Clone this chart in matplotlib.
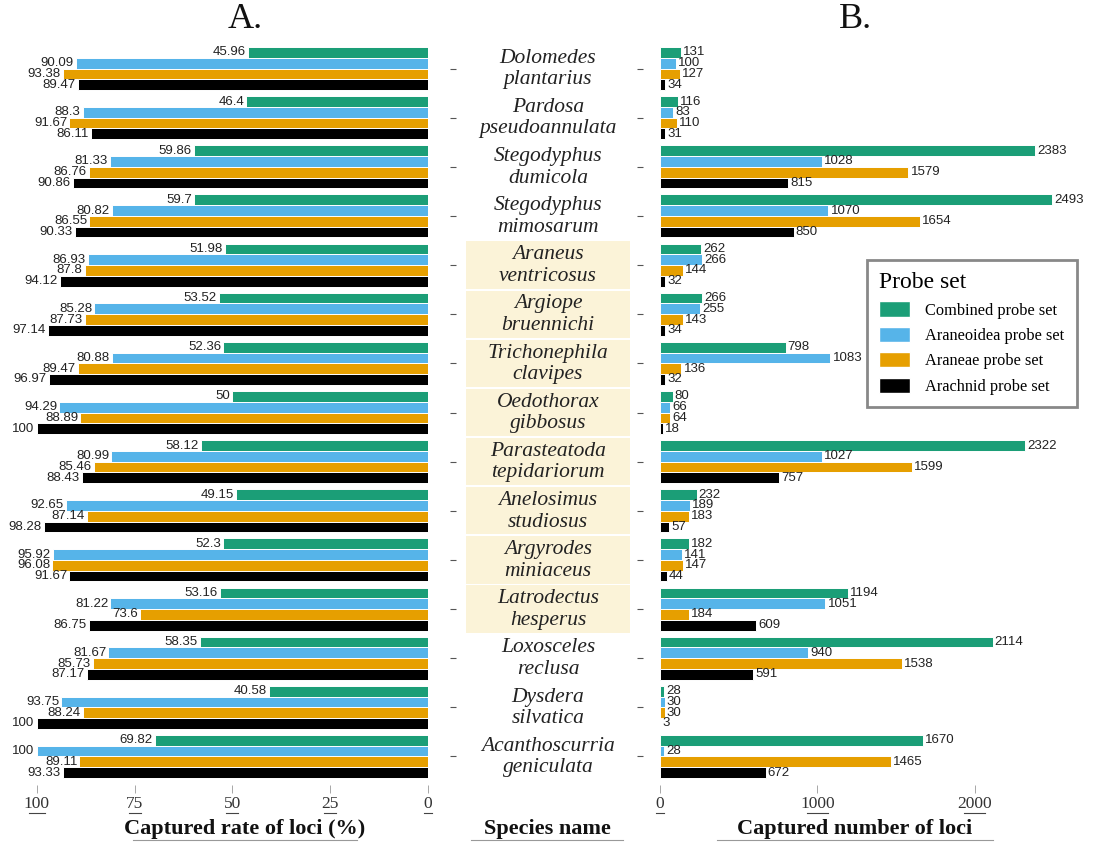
import matplotlib
matplotlib.use("Agg")
import matplotlib.pyplot as plt
import matplotlib.transforms as mtransforms
from matplotlib.patches import Patch, Rectangle
import numpy as np

# ---- data ----
species = [
    ("Dolomedes", "plantarius"), ("Pardosa", "pseudoannulata"),
    ("Stegodyphus", "dumicola"), ("Stegodyphus", "mimosarum"),
    ("Araneus", "ventricosus"), ("Argiope", "bruennichi"),
    ("Trichonephila", "clavipes"), ("Oedothorax", "gibbosus"),
    ("Parasteatoda", "tepidariorum"), ("Anelosimus", "studiosus"),
    ("Argyrodes", "miniaceus"), ("Latrodectus", "hesperus"),
    ("Loxosceles", "reclusa"), ("Dysdera", "silvatica"),
    ("Acanthoscurria", "geniculata"),
]
highlighted = [False, False, False, False, True, True, True, True,
               True, True, True, True, False, False, False]
probe_sets = ["Combined probe set", "Araneoidea probe set",
              "Araneae probe set", "Arachnid probe set"]

rate_combined = [45.96, 46.4, 59.86, 59.7, 51.98, 53.52, 52.36, 50, 58.12,
                 49.15, 52.3, 53.16, 58.35, 40.58, 69.82]
rate_araneoidea = [90.09, 88.3, 81.33, 80.82, 86.93, 85.28, 80.88, 94.29,
                   80.99, 92.65, 95.92, 81.22, 81.67, 93.75, 100]
rate_araneae = [93.38, 91.67, 86.76, 86.55, 87.8, 87.73, 89.47, 88.89, 85.46,
                87.14, 96.08, 73.6, 85.73, 88.24, 89.11]
rate_arachnid = [89.47, 86.11, 90.86, 90.33, 94.12, 97.14, 96.97, 100, 88.43,
                 98.28, 91.67, 86.75, 87.17, 100, 93.33]

num_combined = [131, 116, 2383, 2493, 262, 266, 798, 80, 2322, 232, 182,
                1194, 2114, 28, 1670]
num_araneoidea = [100, 83, 1028, 1070, 266, 255, 1083, 66, 1027, 189, 141,
                  1051, 940, 30, 28]
num_araneae = [127, 110, 1579, 1654, 144, 143, 136, 64, 1599, 183, 147, 184,
               1538, 30, 1465]
num_arachnid = [34, 31, 815, 850, 32, 34, 32, 18, 757, 57, 44, 609, 591, 3,
                672]

rate_ticks = [100, 75, 50, 25, 0]
num_ticks = [0, 1000, 2000]

colors = ["#1b9e77", "#56b4e9", "#e69f00", "#000000"]

SERIF = "Liberation Serif"
SANS = "Liberation Sans"

W, H = 1096, 843
fig = plt.figure(figsize=(W / 100, H / 100), dpi=100)


def px_box(x0, x1, y0, y1):
    # pixel box -> figure fraction [left, bottom, width, height]
    return [x0 / W, 1 - y1 / H, (x1 - x0) / W, (y1 - y0) / H]


ax_top, ax_bot = 40, 785
ax_l = fig.add_axes(px_box(0, 428, ax_top, ax_bot))
ax_m = fig.add_axes(px_box(456, 640, ax_top, ax_bot))
ax_r = fig.add_axes(px_box(660, 1092, ax_top, ax_bot))

n = len(species)
ypos = np.arange(n)
group = 0.875
bh = group / 4
offsets = [-group / 2 + bh * (k + 0.5) for k in range(4)]
ylim = (n - 1 + 0.58, -0.58)

rate_series = [rate_combined, rate_araneoidea, rate_araneae, rate_arachnid]
num_series = [num_combined, num_araneoidea, num_araneae, num_arachnid]

for ax in (ax_l, ax_m, ax_r):
    ax.set_ylim(*ylim)
    for s in ax.spines.values():
        s.set_visible(False)

# left panel: rate (bars grow leftwards, labels at the left end)
for k, vals in enumerate(rate_series):
    ax_l.barh(ypos + offsets[k], vals, height=bh, color=colors[k],
              edgecolor="white", linewidth=0.7)
    for y, v in zip(ypos + offsets[k], vals):
        ax_l.annotate(f"{v:g}", (v, y), xytext=(-1.5, 0),
                      textcoords="offset points", ha="right", va="center",
                      fontsize=9.5, family=SANS, color="#222222")
ax_l.set_xlim(109.4, 0)
ax_l.set_yticks([])
ax_l.set_xticks(rate_ticks)
ax_l.set_xticklabels([str(t) for t in rate_ticks])

# right panel: number
for k, vals in enumerate(num_series):
    ax_r.barh(ypos + offsets[k], vals, height=bh, color=colors[k],
              edgecolor="white", linewidth=0.7)
    for y, v in zip(ypos + offsets[k], vals):
        ax_r.annotate(str(v), (v, y), xytext=(1.5, 0),
                      textcoords="offset points", ha="left", va="center",
                      fontsize=9.5, family=SANS, color="#222222")
ax_r.set_xlim(0, 2745)
ax_r.set_xticks(num_ticks)
ax_r.set_xticklabels([str(t) for t in num_ticks])
ax_r.spines["left"].set_position(("outward", 12))
ax_r.set_yticks(ypos)
ax_r.set_yticklabels([])
ax_r.tick_params(axis="y", length=4, width=0.8, color="#555555")

for ax in (ax_l, ax_r):
    ax.tick_params(axis="x", length=6, width=0.6, color="#999999", pad=2,
                   labelsize=12.5, labelcolor="#333333")
    for lab in ax.get_xticklabels():
        lab.set_family(SERIF)
    # underline tick labels
    tr = mtransforms.blended_transform_factory(ax.transData, ax.transAxes)
    span = (ax.get_xlim()[1] - ax.get_xlim()[0])
    for t in ax.get_xticks():
        w = 0.032 * abs(span) * (len(str(int(t))) / 3 + 0.2)
        ax.plot([t - w / 2, t + w / 2], [-0.0375, -0.0375], transform=tr,
                color="#444444", lw=0.8, clip_on=False)

# middle panel: species names
ax_m.set_xlim(0, 1)
ax_m.set_xticks([])
ax_m.set_yticks(ypos)
ax_m.set_yticklabels([])
ax_m.tick_params(axis="y", length=4, width=0.8, color="#555555")
for i, (g, sp) in enumerate(species):
    if highlighted[i]:
        ax_m.add_patch(Rectangle((10 / 184, i - 0.48), 164 / 184, 0.96,
                                 facecolor="#fbf3d8", edgecolor="none"))
    ax_m.text(0.5, i - 0.21, g, ha="center", va="center", fontsize=15.5,
              family=SERIF, style="italic", color="#222222")
    ax_m.text(0.5, i + 0.23, sp, ha="center", va="center", fontsize=15.5,
              family=SERIF, style="italic", color="#222222")

# panel letters
fig.text(245 / W, 1 - 20 / H, "A.", ha="center", va="center", fontsize=26,
         family=SERIF, color="#111111")
fig.text(855 / W, 1 - 20 / H, "B.", ha="center", va="center", fontsize=26,
         family=SERIF, color="#111111")

# bottom titles with underline
for cx, txt, half in [(245, "Captured rate of loci (%)", 112),
                      (547, "Species name", 76),
                      (855, "Captured number of loci", 138)]:
    fig.text(cx / W, 1 - 829 / H, txt, ha="center", va="center",
             fontsize=16, family=SERIF, weight="bold", color="#111111")
    fig.add_artist(plt.Line2D([(cx - half) / W, (cx + half) / W],
                              [1 - 840 / H, 1 - 840 / H], color="#999999",
                              lw=0.8, transform=fig.transFigure))

# legend
handles = [Patch(facecolor=c, edgecolor="white", label=l)
           for c, l in zip(colors, probe_sets)]
leg = fig.legend(handles=handles, title="Probe set", loc="upper left",
                 bbox_to_anchor=(867 / W, 1 - 260 / H), frameon=True,
                 fancybox=False, prop={"family": SERIF, "size": 11.8},
                 title_fontproperties={"family": SERIF, "size": 17},
                 handlelength=1.9, handleheight=1.05, labelspacing=0.5,
                 borderpad=0.75, handletextpad=0.9, alignment="left",
                 borderaxespad=0)
leg.get_frame().set_edgecolor("#6b6b6b")
leg.get_frame().set_linewidth(2)

fig.savefig("out.png", dpi=100, facecolor="white")
